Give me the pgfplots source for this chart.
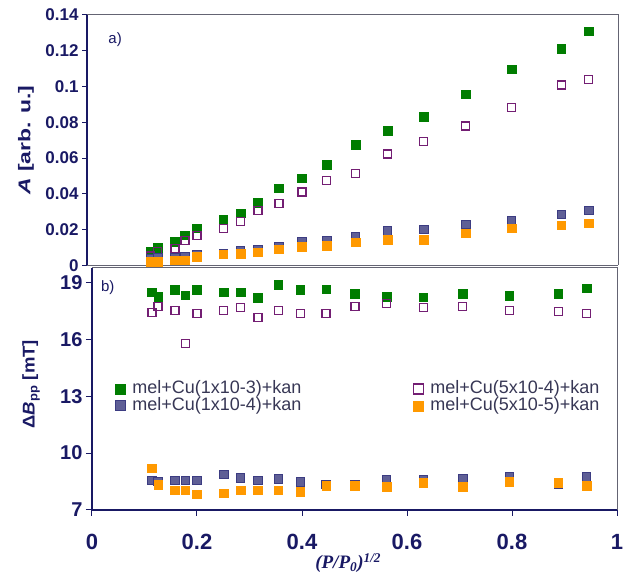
\documentclass[border=0pt]{standalone}
\usepackage{graphicx}
\usepackage{pgfplots}
\pgfplotsset{compat=1.18}
\usepackage{fontspec}
\setmainfont{Liberation Sans}
\newfontfamily\seriffont{Liberation Serif}
\definecolor{cgreen}{RGB}{0,125,0}
\definecolor{cpurple}{RGB}{115,30,115}
\definecolor{cblue}{RGB}{95,95,150}
\definecolor{cblueedge}{RGB}{60,60,130}
\definecolor{corange}{RGB}{255,153,0}
\definecolor{navy}{RGB}{25,25,100}
\definecolor{frame}{RGB}{100,100,115}
\definecolor{legtext}{RGB}{55,55,85}

\pgfplotstableread{
x      g      p      b      o
0.112  0.0080 0.0053 0.0040 0.0020
0.125  0.0098 0.0077 0.0043 0.0022
0.158  0.0133 0.0096 0.0045 0.0030
0.177  0.0170 0.0139 0.0050 0.0030
0.200  0.0208 0.0167 0.0060 0.0050
0.250  0.0254 0.0208 0.0068 0.0063
0.283  0.0292 0.0245 0.0081 0.0064
0.316  0.0351 0.0306 0.0090 0.0074
0.356  0.0432 0.0348 0.0105 0.0090
0.400  0.0487 0.0410 0.0131 0.0105
0.447  0.0562 0.0474 0.0137 0.0110
0.502  0.0674 0.0515 0.0159 0.0130
0.563  0.0752 0.0623 0.0193 0.0143
0.632  0.0832 0.0692 0.0202 0.0143
0.712  0.0957 0.0780 0.0230 0.0180
0.799  0.1097 0.0882 0.0249 0.0208
0.894  0.1210 0.1009 0.0286 0.0226
0.946  0.1310 0.1040 0.0308 0.0236
}\topdata

\pgfplotstableread{
x      g      p      b     o
0.114  18.48  17.42  8.55  9.20
0.126  18.24  17.72  8.50  8.32
0.158  18.60  17.51  8.55  8.05
0.178  18.33  15.79  8.55  8.05
0.200  18.60  17.37  8.55  7.83
0.251  18.48  17.51  8.88  7.88
0.283  18.48  17.66  8.70  8.05
0.316  18.19  17.16  8.55  8.05
0.355  18.86  17.51  8.63  8.05
0.397  18.60  17.37  8.49  7.97
0.446  18.63  17.37  8.35  8.28
0.501  18.39  17.72  8.35  8.28
0.561  18.24  17.90  8.62  8.23
0.631  18.21  17.69  8.58  8.44
0.706  18.39  17.72  8.65  8.23
0.795  18.28  17.51  8.74  8.49
0.888  18.39  17.46  8.35  8.44
0.942  18.69  17.37  8.76  8.28
}\botdata

\pgfplotsset{
  panel/.style={
    scale only axis, anchor=south west,
    axis x line*=bottom, axis y line*=left,
    axis line style={navy, line width=1.3pt},
    tick align=outside,
    tick style={navy, line width=1pt},
    /pgf/number format/assume math mode=true,
  },
  gser/.style={only marks, mark=square*, mark size=4.3pt, mark options={fill=cgreen, draw=cgreen, line width=0.5pt}},
  pser/.style={only marks, mark=square, mark size=4.0pt, mark options={draw=cpurple, fill=white, line width=1.4pt}},
  bser/.style={only marks, mark=square*, mark size=4.3pt, mark options={fill=cblue, draw=cblueedge, line width=0.8pt}},
  oser/.style={only marks, mark=square*, mark size=4.3pt, mark options={fill=corange, draw=corange, line width=0.5pt}},
}

\begin{document}
\begin{tikzpicture}
% ---------- top panel ----------
\begin{axis}[panel, name=top,
  at={(87pt,313.5pt)}, width=531pt, height=250.5pt,
  xmin=-0.0095, xmax=1.0019, ymin=0, ymax=0.14,
  xtick=\empty,
  x axis line style={frame, line width=1pt},
  ytick={0,0.02,0.04,0.06,0.08,0.1,0.12,0.14},
  yticklabels={0,0.02,0.04,0.06,0.08,0.1,0.12,0.14},
  yticklabel style={font=\bfseries\fontsize{17}{17}\selectfont, text=navy},
  major tick length=5pt,
  ylabel={\bfseries\fontsize{17}{17}\selectfont\scalebox{1.35}[1]{\itshape A\upshape\ [arb. u.]}},
  ylabel style={at={(axis description cs:-0.115,0.5)}, anchor=center, text=navy},
]
\addplot[gser] table[x=x,y=g]{\topdata};
\addplot[pser] table[x=x,y=p]{\topdata};
\addplot[bser] table[x=x,y=b]{\topdata};
\addplot[oser] table[x=x,y=o]{\topdata};
\node[text=navy, font=\fontsize{15}{15}\selectfont] at (rel axis cs:0.053,0.9) {a)};
\end{axis}
\draw[frame, line width=1pt] (top.north west) -- (top.north east) -- (top.south east);

% ---------- bottom panel ----------
\begin{axis}[panel, name=bot,
  at={(92pt,69pt)}, width=525pt, height=242pt,
  xmin=0, xmax=1, ymin=7, ymax=19.757,
  xtick={0,0.2,0.4,0.6,0.8,1},
  xticklabels={0,0.2,0.4,0.6,0.8,1},
  ytick={7,10,13,16,19},
  yticklabels={7,10,13,16,19},
  xticklabel style={font=\bfseries\fontsize{22}{22}\selectfont, text=navy, yshift=-15pt},
  yticklabel style={font=\bfseries\fontsize{20}{20}\selectfont, text=navy},
  major tick length=6pt,
  xlabel={\seriffont\bfseries\itshape\fontsize{19}{19}\selectfont (P/P\textsubscript{0})\textsuperscript{1/2}},
  xlabel style={at={(axis description cs:0.488,-0.219)}, anchor=center, text=navy},
  ylabel={\bfseries\fontsize{17}{17}\selectfont\scalebox{1.09}[1]{Δ\itshape B\textsubscript{\upshape pp}\upshape\ [mT]}},
  ylabel style={at={(axis description cs:-0.116,0.52)}, anchor=center, text=navy},
  legend columns=2,
  legend image code/.code={\draw[#1, mark size=5pt] plot coordinates {(0pt,0pt)};},
  legend style={at={(rel axis cs:0.044,0.465)}, anchor=west, draw=none, fill=none,
    inner sep=0pt, row sep=0.7pt,
    font=\fontsize{18}{18}\selectfont, text=legtext,
    nodes={inner sep=0pt, text height=12.5pt, text depth=3.5pt},
    /tikz/every odd column/.append style={column sep=7pt},
    /tikz/every even column/.append style={column sep=112pt}},
  legend cell align=left,
]
\addplot[gser] table[x=x,y=g]{\botdata};
\addlegendentry{mel+Cu(1x10-3)+kan}
\addplot[pser] table[x=x,y=p]{\botdata};
\addlegendentry{mel+Cu(5x10-4)+kan}
\addplot[bser] table[x=x,y=b]{\botdata};
\addlegendentry{mel+Cu(1x10-4)+kan}
\addplot[oser] table[x=x,y=o]{\botdata};
\addlegendentry{mel+Cu(5x10-5)+kan}
\node[text=navy, font=\fontsize{15}{15}\selectfont] at (rel axis cs:0.03,0.917) {b)};
\end{axis}
\draw[frame, line width=1pt] (bot.north west) -- (bot.north east) -- (bot.south east);

\pgfresetboundingbox
\path[use as bounding box] (0pt,0pt) rectangle (633pt,579pt);
\end{tikzpicture}
\end{document}
